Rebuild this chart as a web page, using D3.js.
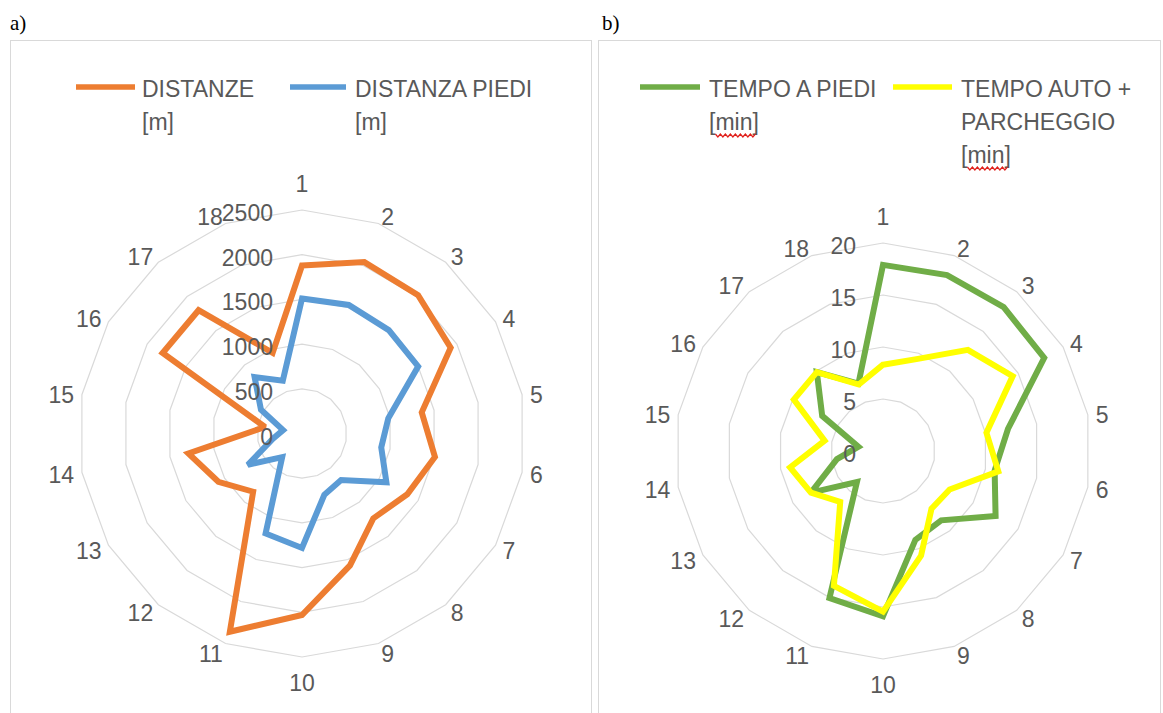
<!DOCTYPE html>
<html>
<head>
<meta charset="utf-8">
<script src="https://cdn.jsdelivr.net/npm/d3@7"></script>
<style>
  body { margin: 0; background: #ffffff; }
  svg { display: block; }
  text { font-family: "Liberation Sans", Arial, sans-serif; }
</style>
</head>
<body>
<svg id="chart" width="1163" height="713"></svg>
<script>
// ---------- DATA ----------
const categories = ["1","2","3","4","5","6","7","8","9","10","11","12","13","14","15","16","17","18"];

// panel a) distances [m]
const distanze      = [1880, 2040, 2020, 1920, 1360, 1510, 1360, 1240, 1570, 2030, 2360, 850, 1080, 1290, 420, 1800, 1800, 960];
const distanzaPiedi = [1510, 1530, 1510, 1500, 980, 900, 1090, 680, 730, 1280, 1190, 345, 700, 330, 215, 530, 825, 628];
const ticksA = [0, 500, 1000, 1500, 2000, 2500];

// panel b) times [min]
const tempoPiedi = [17.9, 18.0, 18.05, 17.9, 12.2, 10.9, 12.5, 8.7, 9.1, 15.9, 15.05, 3.9, 8.0, 4.5, 2.4, 6.75, 9.9, 6.9];
const tempoAuto  = [8.3, 9.4, 12.7, 14.4, 10.1, 11.26, 7.4, 7.25, 10.7, 15.45, 13.8, 6.4, 8.0, 9.07, 5.7, 9.9, 9.9, 6.8];
const ticksB = [0, 5, 10, 15, 20];

const legendA = [
  { lines: ["DISTANZE", "[m]"], color: "#ED7D31" },
  { lines: ["DISTANZA PIEDI", "[m]"], color: "#5B9BD5" }
];
const legendB = [
  { lines: ["TEMPO A PIEDI", "[min]"], color: "#70AD47" },
  { lines: ["TEMPO AUTO +", "PARCHEGGIO", "[min]"], color: "#FFFF00" }
];
const panelLetters = ["a)", "b)"];

// ---------- DRAW ----------
const svg = d3.select("#chart");
const TEXT = "#595959", GRID = "#d9d9d9", FS = 23;

// panel frames + letters
const frames = [
  { x: 10.5, y: 40.5, w: 581, h: 700, lx: 10, ly: 30 },
  { x: 598.5, y: 40.5, w: 562, h: 700, lx: 602, ly: 30 }
];
frames.forEach((f, i) => {
  svg.append("rect").attr("x", f.x).attr("y", f.y).attr("width", f.w).attr("height", f.h)
    .attr("fill", "none").attr("stroke", GRID).attr("stroke-width", 1);
  svg.append("text").attr("x", f.lx).attr("y", f.ly)
    .style("font-family", "'Liberation Serif', 'Times New Roman', serif")
    .attr("font-size", 21).attr("fill", "#000").text(panelLetters[i]);
});

function radar(cfg) {
  const g = svg.append("g").attr("transform", `translate(${cfg.cx},${cfg.cy})`);
  const r = d3.scaleLinear().domain([0, cfg.max]).range([0, cfg.R]);
  const ang = d3.scalePoint().domain(categories).range([0, 2 * Math.PI * (categories.length - 1) / categories.length]);

  // grid rings (polygons)
  cfg.ticks.filter(t => t > 0).forEach(t => {
    const ring = d3.lineRadial().angle(c => ang(c)).radius(() => r(t)).curve(d3.curveLinearClosed);
    g.append("path").attr("d", ring(categories)).attr("fill", "none")
      .attr("stroke", GRID).attr("stroke-width", 1.2);
  });

  // series
  cfg.series.forEach(s => {
    const line = d3.lineRadial().angle((d, i) => ang(categories[i])).radius(d => r(d)).curve(d3.curveLinearClosed);
    g.append("path").attr("d", line(s.values)).attr("fill", "none")
      .attr("stroke", s.color).attr("stroke-width", 6)
      .attr("stroke-linejoin", "miter").attr("stroke-miterlimit", 2);
  });

  // radial tick labels
  cfg.ticks.forEach(t => {
    g.append("text").attr("x", -cfg.tickOff).attr("y", -r(t) + 3).attr("dy", "0.35em")
      .attr("text-anchor", "end").attr("font-size", FS).attr("fill", TEXT).text(t);
  });

  // category labels, placed beside the outer ring vertex
  categories.forEach(c => {
    const a = ang(c), s = Math.sin(a), co = Math.cos(a);
    const vx = cfg.R * s, vy = -cfg.R * co;
    let x, y, anchor;
    if (Math.abs(s) < 0.1) {
      x = vx; y = vy - co * 26; anchor = "middle";
    } else {
      x = vx + 8 * s; y = vy - 9 * co + 1.5; anchor = s > 0 ? "start" : "end";
    }
    g.append("text").attr("x", x).attr("y", y).attr("dy", "0.35em")
      .attr("text-anchor", anchor).attr("font-size", FS).attr("fill", TEXT).text(c);
  });
}

function legend(items, pos) {
  items.forEach((it, k) => {
    const p = pos[k];
    svg.append("line").attr("x1", p.x0).attr("x2", p.x1).attr("y1", 87).attr("y2", 87)
      .attr("stroke", it.color).attr("stroke-width", 5.5);
    const t = svg.append("text").attr("font-size", FS).attr("fill", TEXT);
    it.lines.forEach((ln, j) => {
      t.append("tspan").attr("x", p.tx).attr("y", 97 + j * 33).text(ln);
    });
  });
}

radar({ cx: 302, cy: 433.5, R: 223.5, max: 2500, ticks: ticksA, tickOff: 29,
  series: [{ values: distanze, color: "#ED7D31" }, { values: distanzaPiedi, color: "#5B9BD5" }] });
radar({ cx: 883, cy: 451, R: 208, max: 20, ticks: ticksB, tickOff: 27,
  series: [{ values: tempoPiedi, color: "#70AD47" }, { values: tempoAuto, color: "#FFFF00" }] });

legend(legendA, [{ x0: 76, x1: 135, tx: 142 }, { x0: 290, x1: 346, tx: 355 }]);
legend(legendB, [{ x0: 640, x1: 700, tx: 709 }, { x0: 893, x1: 952, tx: 961 }]);

// red spell-check squiggles under "min"
svg.selectAll("tspan").each(function () {
  const txt = this.textContent;
  if (txt === "[min]") {
    const x0 = this.getStartPositionOfChar(1).x;
    const x1 = this.getEndPositionOfChar(3).x + 3;
    const y = +this.getAttribute("y") + 5;
    const pts = [];
    for (let x = x0, k = 0; x <= x1; x += 2.5, k++) pts.push([x, y + (k % 2 ? 2 : -1)]);
    svg.append("path").attr("d", d3.line()(pts)).attr("fill", "none")
      .attr("stroke", "#e0201b").attr("stroke-width", 1.2);
  }
});
</script>
</body>
</html>
